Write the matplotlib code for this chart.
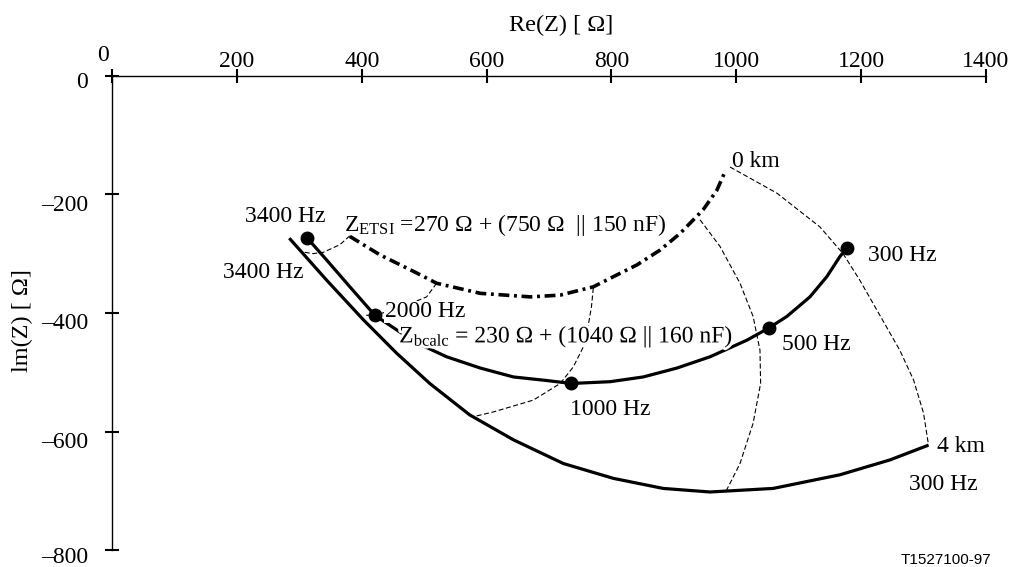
import matplotlib
matplotlib.use("Agg")
import matplotlib.pyplot as plt
import matplotlib.patheffects as pe
from matplotlib.transforms import ScaledTranslation

plt.rcParams['font.family'] = ['Liberation Serif', 'DejaVu Serif']
plt.rcParams['mathtext.fontset'] = 'custom'
plt.rcParams['mathtext.rm'] = 'Liberation Serif'
plt.rcParams['mathtext.it'] = 'Liberation Serif:italic'

# ---------------- data (Re, Im in ohm) ----------------
# Z_bcalc = 230 ohm + (1040 ohm || 160 nF), 3400 .. 300 Hz
bcalc_re = [312, 344, 381, 421, 485, 536, 590, 643, 696, 736, 798, 851, 905, 958, 1017,
            1053, 1081, 1118, 1145, 1166, 1177]
bcalc_im = [-273, -311, -356, -404, -449, -474, -493, -508, -514, -519, -516, -508, -493, -474, -446,
            -425, -406, -373, -339, -305, -291]

# Z_ETSI = 270 ohm + (750 ohm || 150 nF)  (0 km)
etsi_re = [381, 429, 483, 520, 590, 670, 718, 771, 803, 841, 878, 910, 947, 969, 982]
etsi_im = [-271, -302, -330, -350, -367, -373, -370, -356, -339, -319, -294, -266, -226, -193, -162]

# 4 km cable input impedance, 3400 .. 300 Hz
cable_re = [284, 344, 403, 456, 509, 573, 643, 723, 803, 883, 958, 1059, 1166, 1246, 1308]
cable_im = [-274, -345, -412, -468, -519, -572, -614, -654, -679, -696, -702, -696, -673, -648, -623]

# constant-frequency loci 0 km -> 4 km
loc300_re = [990, 1065, 1134, 1171, 1198, 1262, 1284, 1300, 1308]
loc300_im = [-154, -198, -255, -300, -345, -463, -513, -569, -623]
loc500_re = [942, 974, 1006, 1027, 1038, 1039, 1027, 1006, 982]
loc500_im = [-243, -288, -350, -406, -463, -519, -586, -654, -704]
loc1000_re = [771, 768, 758, 739, 718, 675, 611, 579]
loc1000_im = [-358, -390, -451, -491, -519, -547, -567, -575]
loc2000_re = [520, 504, 460, 421, 403]
loc2000_im = [-350, -373, -392, -404, -404]
loc3400_re = [381, 365, 338, 322, 304]
loc3400_im = [-270, -285, -298, -300, -297]

# marked frequencies on Z_bcalc
mark_re = [312, 421, 736, 1053, 1177]
mark_im = [-273, -404, -519, -425, -291]

# annotations
ann_text = ['3400 Hz', '3400 Hz', '2000 Hz', '1000 Hz', '500 Hz', '300 Hz', '0 km', '4 km', '300 Hz']
ann_re = [213, 177, 437, 734, 1073, 1211, 993, 1321, 1277]
ann_im = [-238, -332, -398, -563, -454, -304, -145, -626, -689]
ann_bg = [False, False, True, False, False, False, False, False, False]

etsi_label = r'Z$_{\mathrm{ETSI}}$ =270 Ω + (750 Ω  || 150 nF)'
etsi_pos = (371, -251)
bcalc_label = r'Z$_{\mathrm{bcalc}}$ = 230 Ω + (1040 Ω || 160 nF)'
bcalc_base = (460, -450)

x_ticks = [0, 200, 400, 600, 800, 1000, 1200, 1400]
y_ticks = [0, -200, -400, -600, -800]
y_ticklabels = ['0', '–200', '–400', '–600', '–800']
y_label_shift_px = [4, 8.5, 8.5, 8.5, 5]

# ---------------- figure ----------------
fig = plt.figure(figsize=(10.10, 5.67), dpi=100)
ax = fig.add_axes([0.1109, 0.0298, 0.8653, 0.8367])
ax.set_xlim(0, 1400)
ax.set_ylim(-800, 0)

thin = dict(color='black', lw=0.8, ls=(0, (4.5, 2.3)))
for xr, yi in [(loc300_re, loc300_im), (loc500_re, loc500_im), (loc1000_re, loc1000_im),
               (loc2000_re, loc2000_im), (loc3400_re, loc3400_im)]:
    ax.plot(xr, yi, **thin, zorder=1)

ax.plot(cable_re, cable_im, color='black', lw=2.3, solid_capstyle='butt',
        solid_joinstyle='round', zorder=2)
ax.plot(bcalc_re, bcalc_im, color='black', lw=2.3, solid_capstyle='butt',
        solid_joinstyle='round', zorder=2)
ax.plot(etsi_re, etsi_im, color='black', lw=2.6, ls=(0, (3, 1.3, 0.8, 1.3)), zorder=2)
ax.plot(mark_re, mark_im, ls='none', marker='o', ms=9, color='black', zorder=4)

fs = 17
for t, xr, yi, bg in zip(ann_text, ann_re, ann_im, ann_bg):
    kw = {}
    if bg:
        kw['bbox'] = dict(facecolor='white', edgecolor='none', pad=0.5)
    ax.text(xr, yi, t, fontsize=fs, ha='left', va='center', zorder=3, **kw)

ax.text(*etsi_pos, etsi_label, fontsize=fs, ha='left', va='center', zorder=3)
# white halo so the curve disappears under the glyphs, as in the original
ax.text(*bcalc_base, bcalc_label, fontsize=fs, ha='left', va='baseline', zorder=3,
        path_effects=[pe.withStroke(linewidth=4, foreground='white')])

# axes styling
for s in ['bottom', 'right']:
    ax.spines[s].set_visible(False)
for s in ['top', 'left']:
    ax.spines[s].set_linewidth(1.0)

ax.xaxis.tick_top()
ax.set_xticks(x_ticks)
ax.set_xticklabels([str(v) for v in x_ticks])
ax.set_yticks(y_ticks)
ax.set_yticklabels(y_ticklabels)
ax.tick_params(axis='x', direction='inout', length=10.5, width=1.5, labelsize=fs, pad=-2.5)
ax.tick_params(axis='y', direction='inout', length=10.5, width=1.5, labelsize=fs, pad=12)

for lab, sh in zip(ax.get_yticklabels(), y_label_shift_px):
    lab.set_transform(lab.get_transform() + ScaledTranslation(0, -sh / 100, fig.dpi_scale_trans))
x0 = ax.get_xticklabels()[0]
x0.set_transform(x0.get_transform() + ScaledTranslation(-0.087, 0.06, fig.dpi_scale_trans))

ax.xaxis.set_label_position('top')
ax.set_xlabel('Re(Z) [ Ω]', fontsize=17.5)
ax.xaxis.set_label_coords((561 - 112) / 874, (550.1 - 25) / 474.4)
ax.xaxis.label.set_verticalalignment('center')
ax.set_ylabel('lm(Z) [ Ω]', fontsize=17.5)
ax.yaxis.set_label_coords((22.5 - 112) / 874, (550.1 - 320.8) / 474.4)
ax.yaxis.label.set_verticalalignment('center')
ax.yaxis.label.set_horizontalalignment('center')

fig.text(991 / 1010, 1 - 560 / 567, 'T1527100-97', fontsize=11, ha='right', va='center',
         family=['Liberation Sans', 'DejaVu Sans'])

fig.savefig('out.png', dpi=100)
